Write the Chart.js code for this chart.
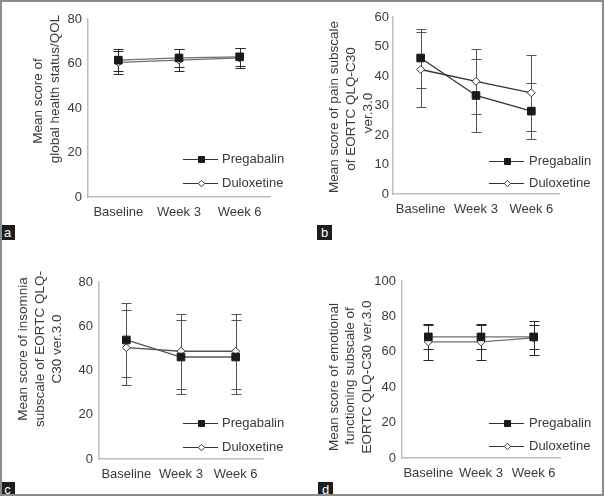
<!DOCTYPE html>
<html>
<head>
<meta charset="utf-8">
<script src="https://cdn.jsdelivr.net/npm/chart.js@4.4.0/dist/chart.umd.min.js"></script>
<style>
  body { margin: 0; background: #fff; }
  #wrap { position: relative; width: 605px; height: 496px; overflow: hidden; }
  canvas { position: absolute; }
  .tag { position: absolute; width: 15px; height: 15px; background: #1e1e1e; color: #fff;
         font: 13px "Liberation Sans", Arial, sans-serif; line-height: 15px; text-align: center; }
  .frame { position: absolute; left: 0; top: 0; width: 604px; height: 496px; box-sizing: border-box;
           border: 2px solid #8c8c8c; pointer-events: none; }
</style>
</head>
<body>
<div id="wrap">
  <canvas id="ca" width="302" height="248" style="left:0;top:0"></canvas>
  <canvas id="cb" width="302" height="248" style="left:302px;top:0"></canvas>
  <canvas id="cc" width="302" height="248" style="left:0;top:248px"></canvas>
  <canvas id="cd" width="302" height="248" style="left:302px;top:248px"></canvas>
  <div class="tag" style="left:0;top:225px">a</div>
  <div class="tag" style="left:317px;top:225px">b</div>
  <div class="tag" style="left:0;top:482px">c</div>
  <div class="tag" style="left:318px;top:482px">d</div>
  <div class="frame"></div>
</div>
<script>
const weeks = ['Baseline', 'Week 3', 'Week 6'];
const seriesNames = ['Pregabalin', 'Duloxetine'];

// a - global health status / QOL
const qolPreg = [61.5, 62.5, 63];
const qolPregSd = [4.8, 4, 4];
const qolDulo = [60.5, 61.5, 62.5];
const qolDuloSd = [5.2, 5, 4.5];

// b - pain
const painPreg = [46.1, 33.4, 28.1];
const painPregSd = [10, 12.5, 9.6];
const painDulo = [42.2, 38.2, 34.3];
const painDuloSd = [12.8, 11.1, 12.8];

// c - insomnia
const insPreg = [53.8, 46.1, 46.1];
const insPregSd = [16.6, 16.5, 16.5];
const insDulo = [50.3, 48.7, 48.7];
const insDuloSd = [17, 17, 17];

// d - emotional functioning
const emoPreg = [68.4, 68.4, 68.4];
const emoPregSd = [7, 7, 7];
const emoDulo = [65.6, 65.6, 67.9];
const emoDuloSd = [10, 10, 9.5];

const FONT = '"Liberation Sans", Arial, sans-serif';
const TEXT = '#3a3a3a';

const errorBars = {
  id: 'errorBars',
  beforeDatasetsDraw(chart, args, opts) {
    const ctx = chart.ctx;
    const y = chart.scales.y;
    chart.data.datasets.forEach((ds, i) => {
      const meta = chart.getDatasetMeta(i);
      ctx.save();
      ctx.strokeStyle = opts.color;
      ctx.lineWidth = 1;
      meta.data.forEach((pt, j) => {
        const top = Math.round(y.getPixelForValue(ds.data[j] + ds.errors[j])) + 0.5;
        const bot = Math.round(y.getPixelForValue(ds.data[j] - ds.errors[j])) + 0.5;
        const x = Math.round(pt.x) + 0.5;
        ctx.beginPath();
        ctx.moveTo(x, top); ctx.lineTo(x, bot);
        ctx.moveTo(x - 5, top); ctx.lineTo(x + 5, top);
        ctx.moveTo(x - 5, bot); ctx.lineTo(x + 5, bot);
        ctx.stroke();
      });
      ctx.restore();
    });
  }
};

const drawMarker = (ctx, style, x, y, r) => {
  if (style === 'rect') {
    ctx.rect(x - r, y - r, 2 * r, 2 * r);
  } else {
    ctx.moveTo(x, y - r); ctx.lineTo(x + r, y); ctx.lineTo(x, y + r); ctx.lineTo(x - r, y); ctx.closePath();
  }
};

// rotated axis title lines + legend drawn inside the plot
const panelText = {
  id: 'panelText',
  afterDraw(chart, args, opts) {
    const ctx = chart.ctx;
    ctx.save();
    ctx.font = '13.5px ' + FONT;
    ctx.fillStyle = TEXT;
    ctx.textAlign = 'center';
    ctx.textBaseline = 'middle';
    opts.titles.forEach((t) => {
      ctx.save();
      ctx.translate(t.x, t.y);
      ctx.rotate(-Math.PI / 2);
      ctx.fillText(t.text, 0, 0);
      ctx.restore();
    });

    ctx.font = '13px ' + FONT;
    const lg = opts.legend;
    chart.data.datasets.forEach((ds, i) => {
      const ly = lg.y[i] + 0.5;
      ctx.strokeStyle = '#333';
      ctx.lineWidth = 1;
      ctx.beginPath();
      ctx.moveTo(lg.x1, ly); ctx.lineTo(lg.x2, ly);
      ctx.stroke();
      ctx.fillStyle = ds.pointBackgroundColor;
      ctx.strokeStyle = ds.pointBorderColor;
      ctx.beginPath();
      drawMarker(ctx, ds.pointStyle, Math.round((lg.x1 + lg.x2) / 2) + 0.5, ly, i === 0 ? 3 : 3.2);
      ctx.fill();
      ctx.stroke();
      ctx.fillStyle = TEXT;
      ctx.textAlign = 'left';
      ctx.fillText(seriesNames[i], lg.text, ly);
    });
    ctx.restore();
  }
};

const makeChart = (id, preg, pregSd, dulo, duloSd, p) => {
  const W = 302, H = 248;
  const area = p.area;
  return new Chart(document.getElementById(id), {
    type: 'line',
    data: {
      labels: weeks,
      datasets: [
        {
          label: seriesNames[0], data: preg, errors: pregSd,
          borderColor: p.line, borderWidth: 1.3, tension: 0, fill: false,
          pointStyle: 'rect', pointRadius: 5.4, pointBackgroundColor: '#1a1a1a',
          pointBorderColor: '#1a1a1a', pointBorderWidth: 1
        },
        {
          label: seriesNames[1], data: dulo, errors: duloSd,
          borderColor: p.line, borderWidth: 1.3, tension: 0, fill: false,
          pointStyle: 'rectRot', pointRadius: 4, pointBackgroundColor: '#fff',
          pointBorderColor: '#333', pointBorderWidth: 1
        }
      ]
    },
    options: {
      responsive: false,
      animation: false,
      layout: { padding: { left: 0, top: area.top, right: W - area.right, bottom: 0 } },
      scales: {
        x: {
          type: 'category',
          offset: true,
          grid: { color: 'rgba(0,0,0,0)', drawTicks: false },
          border: { color: '#bdbdbd', width: 1.5 },
          ticks: { color: TEXT, font: { family: FONT, size: 13 }, padding: 8, maxRotation: 0, autoSkip: false },
          afterFit: (s) => { s.height = H - area.bottom; }
        },
        y: {
          min: 0, max: p.max,
          grid: { color: 'rgba(0,0,0,0)', drawTicks: false },
          border: { color: '#bdbdbd', width: 1.5 },
          ticks: { stepSize: p.step, color: TEXT, font: { family: FONT, size: 13 }, padding: p.tickPad },
          afterFit: (s) => { s.width = area.left; }
        }
      },
      plugins: {
        legend: { display: false },
        tooltip: { enabled: false },
        errorBars: { color: p.err },
        panelText: { titles: p.titles, legend: p.legend }
      }
    },
    plugins: [errorBars, panelText]
  });
};

makeChart('ca', qolPreg, qolPregSd, qolDulo, qolDuloSd, {
  area: { left: 88, top: 19, right: 270, bottom: 197 }, max: 80, step: 20, tickPad: 6,
  line: '#6e6e6e', err: '#2a2a2a',
  titles: [
    { text: 'Mean score of', x: 38, y: 101 },
    { text: 'global health status/QOL', x: 55, y: 89 }
  ],
  legend: { x1: 183, x2: 218, text: 222, y: [159, 183] }
});

makeChart('cb', painPreg, painPregSd, painDulo, painDuloSd, {
  area: { left: 91, top: 17, right: 257, bottom: 194 }, max: 60, step: 10, tickPad: 4,
  line: '#333', err: '#555',
  titles: [
    { text: 'Mean score of pain subscale', x: 32, y: 107 },
    { text: 'of EORTC QLQ-C30', x: 49, y: 109 },
    { text: 'ver.3.0', x: 66, y: 113 }
  ],
  legend: { x1: 187, x2: 222, text: 227, y: [161, 183] }
});

makeChart('cc', insPreg, insPregSd, insDulo, insDuloSd, {
  area: { left: 99, top: 34, right: 263, bottom: 211 }, max: 80, step: 20, tickPad: 6,
  line: '#555', err: '#555',
  titles: [
    { text: 'Mean score of insomnia', x: 23, y: 101 },
    { text: 'subscale of EORTC QLQ-', x: 40, y: 101 },
    { text: 'C30 ver.3.0', x: 57, y: 101 }
  ],
  legend: { x1: 183, x2: 218, text: 222, y: [175, 199] }
});

makeChart('cd', emoPreg, emoPregSd, emoDulo, emoDuloSd, {
  area: { left: 100, top: 33, right: 258, bottom: 210 }, max: 100, step: 20, tickPad: 6,
  line: '#6e6e6e', err: '#2a2a2a',
  titles: [
    { text: 'Mean score of emotional', x: 32, y: 129 },
    { text: 'functioning subscale of', x: 48, y: 128 },
    { text: 'EORTC QLQ-C30 ver.3.0', x: 65, y: 129 }
  ],
  legend: { x1: 187, x2: 222, text: 227, y: [175, 198] }
});
</script>
</body>
</html>
